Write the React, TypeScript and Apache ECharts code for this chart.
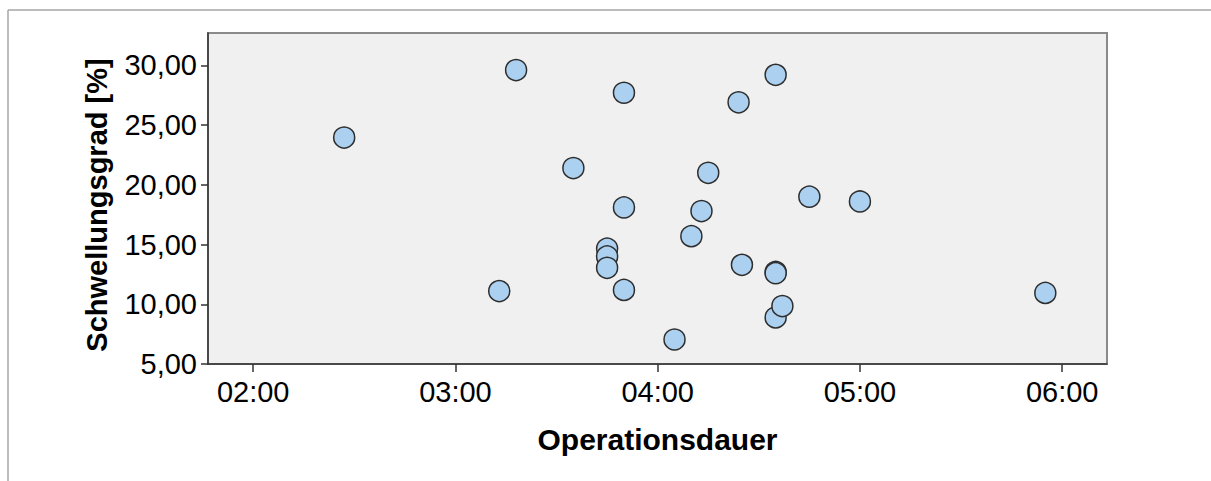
import React, { useEffect, useRef } from "react";
import * as echarts from "echarts";

// Operationsdauer in minutes (e.g. 147 = 02:27)
const durationMinutes = [147, 198, 193, 215, 230, 230, 230, 225, 225, 225, 245, 250, 253, 255, 264, 265, 275, 275, 275, 275, 277, 285, 300, 355];
// Schwellungsgrad [%]
const swellingPercent = [23.95, 29.6, 11.1, 21.4, 27.7, 18.1, 11.2, 14.65, 14.0, 13.05, 7.05, 15.7, 17.8, 21.0, 26.9, 13.3, 29.2, 12.7, 12.6, 8.9, 9.85, 19.0, 18.6, 10.95];

const xTicks = [120, 180, 240, 300, 360];
const yTicks = [5, 10, 15, 20, 25, 30];
const xTitle = "Operationsdauer";
const yTitle = "Schwellungsgrad [%]";

const fmtTime = (v: number) => {
  const h = Math.floor(v / 60);
  const m = Math.round(v - h * 60);
  return String(h).padStart(2, "0") + ":" + String(m).padStart(2, "0");
};
const fmtNum = (v: number) => v.toFixed(2).replace(".", ",");

export default function App() {
  const ref = useRef<HTMLDivElement>(null);
  useEffect(() => {
    if (!ref.current) return;
    const chart = echarts.init(ref.current, undefined, { renderer: "svg" });
    const font = "'Liberation Sans', Arial, sans-serif";
    chart.setOption({
      animation: false,
      backgroundColor: "#ffffff",
      grid: {
        left: 208,
        top: 33,
        right: 104,
        bottom: 117,
        show: true,
        backgroundColor: "#f0f0f0",
        borderColor: "#8a8a8a",
        borderWidth: 2,
      },
      graphic: [
        { type: "line", shape: { x1: 8, y1: 10, x2: 1211, y2: 10 }, style: { stroke: "#a6a6a6", lineWidth: 1.5 }, z: 100 },
        { type: "line", shape: { x1: 8, y1: 10, x2: 8, y2: 481 }, style: { stroke: "#a6a6a6", lineWidth: 1.5 }, z: 100 },
      ],
      xAxis: {
        type: "value",
        min: 106.6,
        max: 373.3,
        name: xTitle,
        nameLocation: "middle",
        nameGap: 60,
        nameTextStyle: { fontFamily: font, fontSize: 30, fontWeight: "bold", color: "#000" },
        axisLine: { show: true, onZero: false, lineStyle: { color: "#333", width: 1.5 } },
        axisTick: { show: true, length: 8, lineStyle: { color: "#333", width: 1.5 }, customValues: xTicks },
        axisLabel: { margin: 13, fontFamily: font, fontSize: 29, color: "#000", customValues: xTicks, formatter: (v: number) => fmtTime(v) },
        splitLine: { show: false },
      },
      yAxis: {
        type: "value",
        min: 5,
        max: 32.7,
        name: yTitle,
        nameLocation: "middle",
        nameGap: 97,
        nameTextStyle: { fontFamily: font, fontSize: 29, fontWeight: "bold", color: "#000", padding: [0, 13, 0, 0] },
        axisLine: { show: true, onZero: false, lineStyle: { color: "#333", width: 1.5 } },
        axisTick: { show: true, length: 7, lineStyle: { color: "#333", width: 1.5 }, customValues: yTicks },
        axisLabel: { margin: 11, fontFamily: font, fontSize: 29, color: "#000", customValues: yTicks, formatter: (v: number) => fmtNum(v) },
        splitLine: { show: false },
      },
      series: [
        {
          type: "scatter",
          data: durationMinutes.map((x, i) => [x, swellingPercent[i]]),
          symbol: "circle",
          symbolSize: 21,
          itemStyle: { color: "#acd0f0", borderColor: "#2e2e2e", borderWidth: 1.5, opacity: 1 },
        },
      ],
    });
    return () => chart.dispose();
  }, []);
  return <div ref={ref} style={{ position: "absolute", left: 0, top: 0, width: 1211, height: 481 }} />;
}
